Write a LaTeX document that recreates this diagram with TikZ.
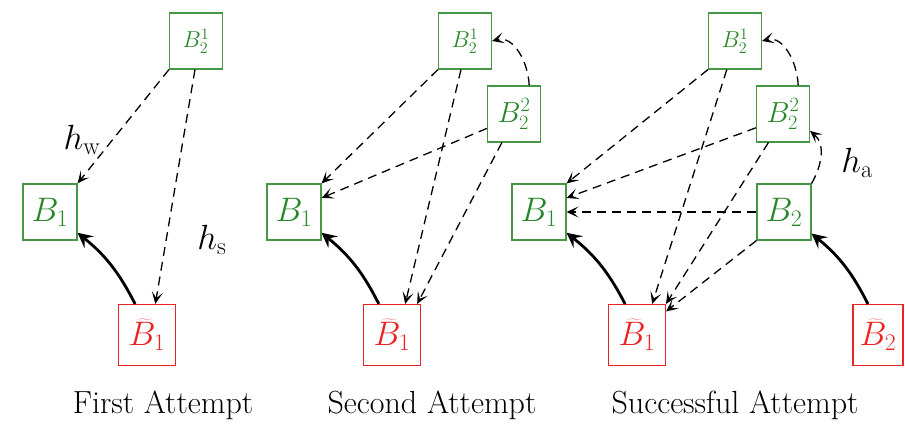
\RequirePackage{fix-cm}
\documentclass[tikz,border=0pt]{standalone}
\usepackage{fontspec}
\usetikzlibrary{arrows.meta}
\definecolor{gr}{RGB}{40,135,40}
\definecolor{grb}{RGB}{70,150,70}
\definecolor{rd}{RGB}{235,35,35}
\tikzset{
  bx/.style={draw=grb, line width=1.1pt, text=gr, minimum width=54pt, minimum height=56pt, inner sep=0pt},
  sbx/.style={bx, minimum width=53pt},
  rbx/.style={draw=rd, line width=1.1pt, text=rd, minimum width=57pt, minimum height=61pt, inner sep=0pt},
  dsh/.style={dashed, dash pattern=on 9pt off 6pt, line width=1.3pt, -{Stealth[length=12pt,width=11pt,inset=6pt]}},
  thk/.style={line width=2.8pt, -{Stealth[length=15pt,width=15pt,inset=6pt]}},
  captxt/.style={anchor=base, font=\fontsize{32}{36}\selectfont},
  lbltxt/.style={font=\fontsize{35}{40}\selectfont},
  bigm/.style={font=\fontsize{34}{40}\selectfont},
  midm/.style={font=\fontsize{29}{34}\selectfont},
  smlm/.style={font=\fontsize{23}{28}\selectfont}
}
\begin{document}
\begin{tikzpicture}[x=1pt,y=-1pt]
\useasboundingbox (0,0) rectangle (905,425);
% Panel 1
\node[sbx,smlm] (a21) at (196,41) {$B_2^1$};
\node[bx,bigm] (b1) at (50,212) {$B_1$};
\node[rbx,bigm] (bt1) at (147,335) {$\widetilde{B}_1$};
\draw[dsh] (a21.south west) -- (b1.north east);
\draw[dsh] (a21.268) -- (bt1.75);
\draw[thk] (bt1.111) to[bend right=12] (b1.-37);
\node[lbltxt] (hw) at (82,140) {$h_{\mathrm{w}}$};
\node[lbltxt] (hs) at (212,240) {$h_{\mathrm{s}}$};
\node[captxt] (t1) at (163,413) {First Attempt};
% Panel 2
\node[sbx,smlm] (c21) at (465,41) {$B_2^1$};
\node[sbx,midm] (c22) at (514,114) {$B_2^2$};
\node[bx,bigm] (c1) at (294,212) {$B_1$};
\node[rbx,bigm] (ct1) at (392,335) {$\widetilde{B}_1$};
\draw[dsh] (c21.south west) -- (c1.north east);
\draw[dsh] (c22.208) -- (c1.27);
\draw[dsh] (c21.262) -- (ct1.67);
\draw[dsh] (c22.247) -- (ct1.51);
\draw[dsh] (c22.62) to[out=92,in=15] (c21.east);
\draw[thk] (ct1.113) to[bend right=12] (c1.-37);
\node[captxt] (t2) at (432,413) {Second Attempt};
% Panel 3
\node[sbx,smlm] (d21) at (735,41) {$B_2^1$};
\node[sbx,midm] (d22) at (783,114) {$B_2^2$};
\node[bx,bigm] (d1) at (539,212) {$B_1$};
\node[bx,bigm] (d2) at (784,212) {$B_2$};
\node[rbx,bigm] (dt1) at (637,335) {$\widetilde{B}_1$};
\node[rbx,bigm,minimum width=50pt] (dt2) at (878,335) {$\widetilde{B}_2$};
\draw[dsh] (d21.south west) -- (d1.north east);
\draw[dsh] (d22.207) -- (d1.27);
\draw[dsh] (d2.west) -- (d1.east);
\draw[dsh] (d21.254) -- (dt1.64);
\draw[dsh] (d22.243) -- (dt1.47);
\draw[dsh] (d2.south west) -- (dt1.39);
\draw[dsh] (d22.62) to[out=92,in=15] (d21.east);
\draw[dsh] (d2.north east) to[out=60,in=-40] (d22.-32);
\draw[thk] (dt1.111) to[bend right=12] (d1.-37);
\draw[thk] (dt2.108) to[bend right=12] (d2.-38);
\node[lbltxt] (ha) at (857,163) {$h_{\mathrm{a}}$};
\node[captxt] (t3) at (735,413) {Successful Attempt};
\end{tikzpicture}
\end{document}
